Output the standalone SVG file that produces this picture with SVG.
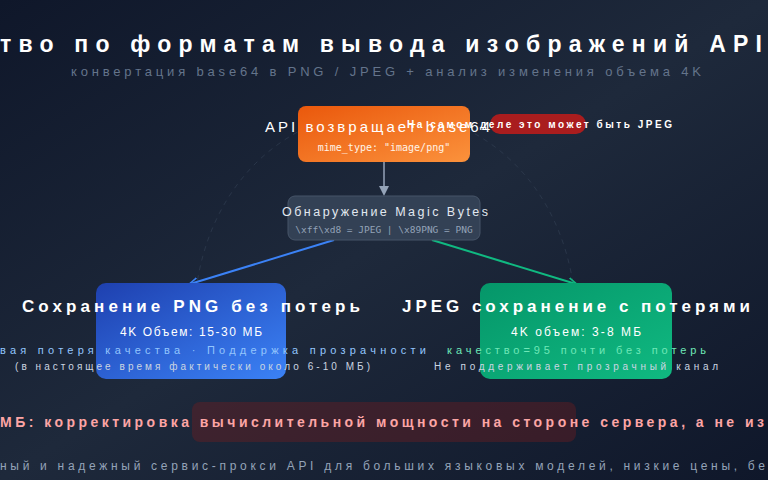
<svg xmlns="http://www.w3.org/2000/svg" width="768" height="480" viewBox="0 0 768 480">
<defs>
<linearGradient id="bg" x1="0" y1="0" x2="1" y2="1"><stop offset="0" stop-color="#0f172a"/><stop offset="0.5" stop-color="#1e293b"/><stop offset="1" stop-color="#0f172a"/></linearGradient>
<linearGradient id="og" x1="0" y1="0" x2="1" y2="1"><stop offset="0" stop-color="#ea580c"/><stop offset="1" stop-color="#fb923c"/></linearGradient>
<linearGradient id="bl" x1="0" y1="0" x2="1" y2="1"><stop offset="0" stop-color="#1e40af"/><stop offset="1" stop-color="#3b82f6"/></linearGradient>
<linearGradient id="gr" x1="0" y1="0" x2="1" y2="1"><stop offset="0" stop-color="#059669"/><stop offset="1" stop-color="#10b981"/></linearGradient>
<marker id="ag" markerWidth="10" markerHeight="10" refX="8" refY="5" orient="auto" markerUnits="userSpaceOnUse"><path d="M0,0 L10,5 L0,10 z" fill="#94a3b8"/></marker>
<marker id="ab" markerWidth="10" markerHeight="10" refX="8" refY="5" orient="auto" markerUnits="userSpaceOnUse"><path d="M0,1 L9,5 L0,9" fill="none" stroke="#3b82f6" stroke-width="1.5"/></marker>
<marker id="an" markerWidth="10" markerHeight="10" refX="8" refY="5" orient="auto" markerUnits="userSpaceOnUse"><path d="M0,1 L9,5 L0,9" fill="none" stroke="#10b981" stroke-width="1.5"/></marker>
<style>
text{font-family:"Liberation Sans","Noto Sans",sans-serif}
.mono{font-family:"DejaVu Sans Mono","Liberation Mono",monospace}
.w{fill:#fff;font-weight:bold}
</style>
</defs>
<rect width="768" height="480" fill="url(#bg)"/>
<path d="M195,360 C180,200 280,110 384,110 C490,110 590,200 575,360" fill="none" stroke="#334155" stroke-width="1" stroke-dasharray="5,5" opacity="0.6"/>
<text x="0" y="52" textLength="762" lengthAdjust="spacing" fill="#fff" font-size="23" font-weight="bold">тво по форматам вывода изображений API</text>
<text x="71" y="76" textLength="630" lengthAdjust="spacing" fill="#64748b" font-size="13">конвертация base64 в PNG / JPEG + анализ изменения объема 4K</text>
<g id="connectors">
<line x1="384" y1="162" x2="384" y2="194" stroke="#94a3b8" stroke-width="1.5" marker-end="url(#ag)"/>
<line x1="334" y1="240" x2="190" y2="284" stroke="#3b82f6" stroke-width="2" marker-end="url(#ab)"/>
<line x1="432" y1="240" x2="576" y2="284" stroke="#10b981" stroke-width="2" marker-end="url(#an)"/>
</g>
<g id="api">
<rect x="298" y="106" width="172" height="56" rx="8" fill="url(#og)"/>
<text x="265" y="132" textLength="225" lengthAdjust="spacing" fill="#fff" font-size="15">API возвращает base64</text>
<text x="384" y="151" text-anchor="middle" class="mono" fill="#fff3e6" font-size="10">mime_type: "image/png"</text>
</g>
<g id="warn">
<rect x="490" y="114" width="96" height="20" rx="10" fill="#b91c1c" opacity="0.9"/>
<text x="407" y="128" textLength="265" lengthAdjust="spacing" fill="#fff" font-size="10" font-weight="bold">На самом деле это может быть JPEG</text>
</g>
<g id="magic">
<rect x="288" y="196" width="192" height="44" rx="7" fill="#334155" stroke="#475569" stroke-width="1"/>
<text x="282" y="216" textLength="206" lengthAdjust="spacing" fill="#e2e8f0" font-size="12.5">Обнаружение Magic Bytes</text>
<text x="384" y="233" text-anchor="middle" class="mono" fill="#94a3b8" font-size="9.5">\xff\xd8 = JPEG | \x89PNG = PNG</text>
</g>
<g id="png">
<rect x="96" y="283" width="190" height="96" rx="10" fill="url(#bl)"/>
<text x="22" y="312" textLength="338" lengthAdjust="spacing" class="w" font-size="17">Сохранение PNG без потерь</text>
<text x="120" y="336" textLength="142" lengthAdjust="spacing" fill="#fff" font-size="12">4K Объем: 15-30 МБ</text>
<text x="0" y="354" textLength="426" lengthAdjust="spacing" fill="#93c5fd" font-size="11">вая потеря качества · Поддержка прозрачности</text>
<text x="15" y="370" textLength="355" lengthAdjust="spacing" fill="#cbd5e1" font-size="10">(в настоящее время фактически около 6-10 МБ)</text>
</g>
<g id="jpeg">
<rect x="480" y="283" width="192" height="96" rx="10" fill="url(#gr)"/>
<text x="402" y="312" textLength="348" lengthAdjust="spacing" class="w" font-size="17">JPEG сохранение с потерями</text>
<text x="511" y="336" textLength="130" lengthAdjust="spacing" fill="#fff" font-size="12">4K объем: 3-8 МБ</text>
<text x="447" y="354" textLength="259" lengthAdjust="spacing" fill="#6ee7b7" font-size="11">качество=95 почти без потерь</text>
<text x="434" y="370" textLength="284" lengthAdjust="spacing" fill="#cbd5e1" font-size="10">Не поддерживает прозрачный канал</text>
</g>
<g id="note">
<rect x="192" y="402" width="384" height="40" rx="8" fill="#7f1d1d" opacity="0.35"/>
<text x="0" y="427" textLength="764" lengthAdjust="spacing" fill="#fca5a5" font-size="14" font-weight="bold">МБ: корректировка вычислительной мощности на стороне сервера, а не из</text>
</g>
<text x="0" y="470" textLength="765" lengthAdjust="spacing" fill="#94a3b8" font-size="12">ный и надежный сервис-прокси API для больших языковых моделей, низкие цены, бе</text>
</svg>
